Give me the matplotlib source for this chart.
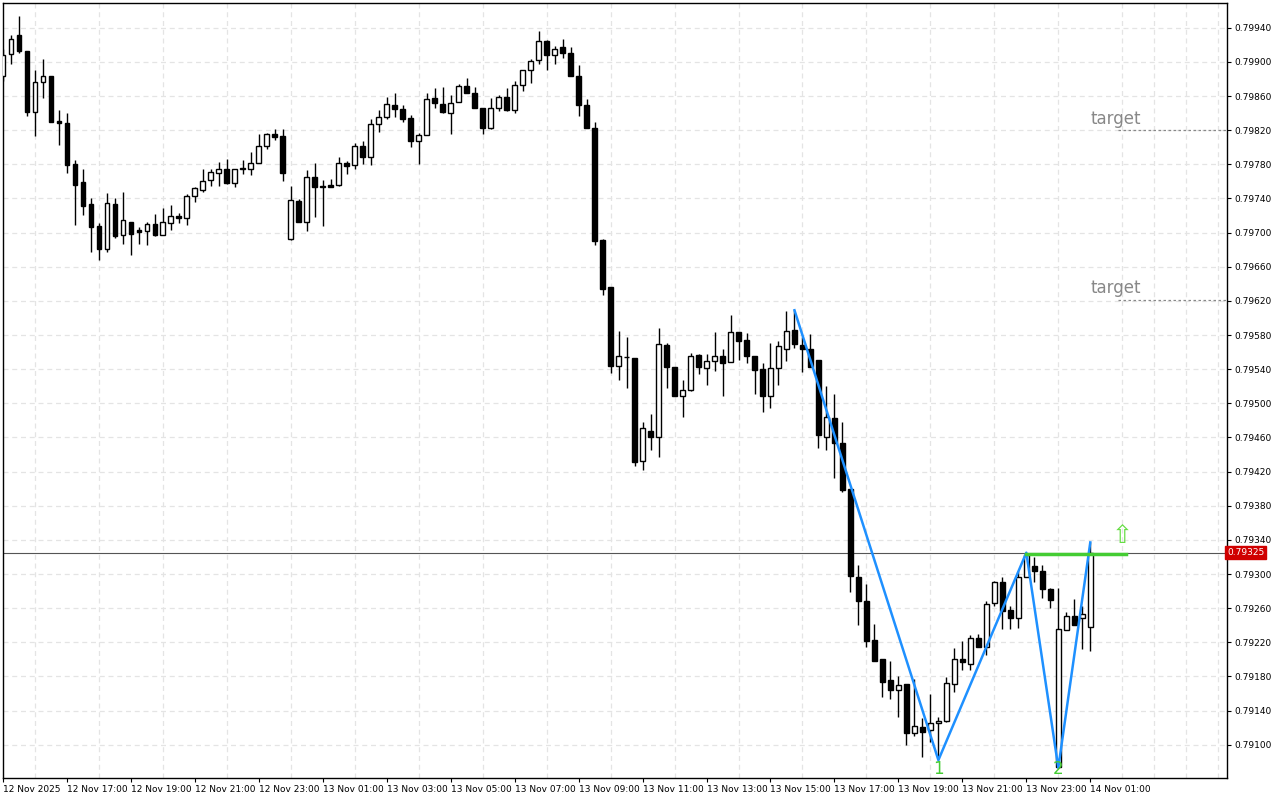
import numpy as np
import matplotlib
matplotlib.use('Agg')
from matplotlib import pyplot as plt

# M15 candles, 12 Nov 15:00 .. 14 Nov 01:00
opens = [0.79883, 0.79909, 0.79932, 0.79913, 0.79841, 0.79876, 0.79883, 0.79831, 0.79828, 0.79780,
         0.79759, 0.79734, 0.79708, 0.79681, 0.79734, 0.79697, 0.79713, 0.79703, 0.79702, 0.79710,
         0.79697, 0.79711, 0.79720, 0.79717, 0.79743, 0.79750, 0.79762, 0.79770, 0.79775, 0.79758,
         0.79775, 0.79775, 0.79782, 0.79802, 0.79816, 0.79813, 0.79692, 0.79737, 0.79712, 0.79765,
         0.79755, 0.79756, 0.79756, 0.79782, 0.79779, 0.79802, 0.79788, 0.79827, 0.79835, 0.79850,
         0.79845, 0.79834, 0.79807, 0.79814, 0.79858, 0.79851, 0.79840, 0.79853, 0.79872, 0.79864,
         0.79846, 0.79822, 0.79846, 0.79859, 0.79844, 0.79873, 0.79890, 0.79902, 0.79924, 0.79908,
         0.79917, 0.79910, 0.79883, 0.79850, 0.79823, 0.79691, 0.79636, 0.79544, 0.79554, 0.79553,
         0.79432, 0.79467, 0.79460, 0.79568, 0.79542, 0.79508, 0.79516, 0.79557, 0.79541, 0.79549,
         0.79556, 0.79548, 0.79583, 0.79574, 0.79555, 0.79540, 0.79508, 0.79541, 0.79564, 0.79586,
         0.79568, 0.79564, 0.79551, 0.79460, 0.79483, 0.79454, 0.79400, 0.79297, 0.79268, 0.79223,
         0.79200, 0.79176, 0.79164, 0.79171, 0.79114, 0.79121, 0.79117, 0.79126, 0.79128, 0.79171,
         0.79201, 0.79195, 0.79225, 0.79214, 0.79266, 0.79291, 0.79258, 0.79249, 0.79296, 0.79309,
         0.79303, 0.79283, 0.79074, 0.79234, 0.79251, 0.79248, 0.79238]
highs = [0.79915, 0.79931, 0.79954, 0.79913, 0.79890, 0.79903, 0.79884, 0.79844, 0.79840, 0.79785,
         0.79775, 0.79741, 0.79711, 0.79746, 0.79741, 0.79748, 0.79713, 0.79706, 0.79712, 0.79722,
         0.79729, 0.79732, 0.79723, 0.79745, 0.79754, 0.79775, 0.79775, 0.79783, 0.79786, 0.79775,
         0.79785, 0.79794, 0.79816, 0.79817, 0.79821, 0.79821, 0.79755, 0.79739, 0.79773, 0.79781,
         0.79762, 0.79763, 0.79788, 0.79784, 0.79805, 0.79807, 0.79833, 0.79844, 0.79859, 0.79863,
         0.79850, 0.79838, 0.79817, 0.79863, 0.79869, 0.79870, 0.79861, 0.79874, 0.79881, 0.79871,
         0.79846, 0.79858, 0.79861, 0.79869, 0.79878, 0.79891, 0.79903, 0.79936, 0.79926, 0.79919,
         0.79927, 0.79917, 0.79896, 0.79857, 0.79830, 0.79693, 0.79636, 0.79585, 0.79578, 0.79553,
         0.79478, 0.79488, 0.79588, 0.79571, 0.79542, 0.79527, 0.79559, 0.79558, 0.79558, 0.79584,
         0.79564, 0.79603, 0.79583, 0.79582, 0.79556, 0.79547, 0.79571, 0.79573, 0.79608, 0.79609,
         0.79578, 0.79581, 0.79551, 0.79520, 0.79511, 0.79478, 0.79400, 0.79310, 0.79288, 0.79241,
         0.79201, 0.79198, 0.79181, 0.79171, 0.79177, 0.79131, 0.79160, 0.79132, 0.79179, 0.79213,
         0.79221, 0.79229, 0.79230, 0.79268, 0.79292, 0.79296, 0.79263, 0.79304, 0.79325, 0.79320,
         0.79310, 0.79284, 0.79284, 0.79256, 0.79271, 0.79263, 0.79337]
lows = [0.79878, 0.79898, 0.79910, 0.79837, 0.79813, 0.79858, 0.79830, 0.79803, 0.79770, 0.79709,
        0.79721, 0.79677, 0.79668, 0.79677, 0.79694, 0.79687, 0.79674, 0.79687, 0.79685, 0.79696,
        0.79697, 0.79703, 0.79711, 0.79709, 0.79736, 0.79748, 0.79755, 0.79755, 0.79757, 0.79754,
        0.79769, 0.79768, 0.79781, 0.79798, 0.79808, 0.79761, 0.79691, 0.79712, 0.79702, 0.79718,
        0.79708, 0.79753, 0.79755, 0.79769, 0.79775, 0.79780, 0.79779, 0.79818, 0.79833, 0.79836,
        0.79829, 0.79800, 0.79780, 0.79814, 0.79846, 0.79840, 0.79816, 0.79853, 0.79863, 0.79846,
        0.79816, 0.79821, 0.79843, 0.79843, 0.79840, 0.79866, 0.79875, 0.79897, 0.79891, 0.79898,
        0.79904, 0.79884, 0.79837, 0.79822, 0.79686, 0.79627, 0.79535, 0.79527, 0.79518, 0.79427,
        0.79422, 0.79445, 0.79437, 0.79518, 0.79508, 0.79484, 0.79515, 0.79534, 0.79521, 0.79538,
        0.79508, 0.79548, 0.79551, 0.79547, 0.79511, 0.79490, 0.79494, 0.79521, 0.79550, 0.79565,
        0.79537, 0.79542, 0.79448, 0.79445, 0.79413, 0.79396, 0.79279, 0.79240, 0.79214, 0.79198,
        0.79156, 0.79154, 0.79132, 0.79100, 0.79110, 0.79086, 0.79103, 0.79082, 0.79127, 0.79162,
        0.79187, 0.79188, 0.79214, 0.79205, 0.79262, 0.79236, 0.79236, 0.79237, 0.79296, 0.79291,
        0.79272, 0.79260, 0.79073, 0.79234, 0.79240, 0.79212, 0.79210]
closes = [0.79908, 0.79927, 0.79913, 0.79841, 0.79877, 0.79883, 0.79830, 0.79828, 0.79779, 0.79756,
          0.79731, 0.79707, 0.79681, 0.79735, 0.79696, 0.79715, 0.79698, 0.79701, 0.79710, 0.79697,
          0.79712, 0.79720, 0.79717, 0.79743, 0.79752, 0.79761, 0.79771, 0.79775, 0.79758, 0.79775,
          0.79776, 0.79781, 0.79801, 0.79815, 0.79812, 0.79770, 0.79738, 0.79712, 0.79765, 0.79754,
          0.79754, 0.79754, 0.79782, 0.79778, 0.79801, 0.79788, 0.79827, 0.79835, 0.79851, 0.79845,
          0.79833, 0.79807, 0.79814, 0.79857, 0.79852, 0.79841, 0.79852, 0.79872, 0.79863, 0.79846,
          0.79822, 0.79846, 0.79859, 0.79844, 0.79873, 0.79890, 0.79901, 0.79924, 0.79908, 0.79915,
          0.79910, 0.79884, 0.79849, 0.79822, 0.79690, 0.79634, 0.79544, 0.79555, 0.79554, 0.79431,
          0.79471, 0.79460, 0.79569, 0.79542, 0.79509, 0.79516, 0.79555, 0.79542, 0.79549, 0.79556,
          0.79547, 0.79583, 0.79573, 0.79555, 0.79539, 0.79509, 0.79541, 0.79567, 0.79585, 0.79570,
          0.79564, 0.79542, 0.79463, 0.79484, 0.79453, 0.79398, 0.79298, 0.79268, 0.79221, 0.79198,
          0.79174, 0.79164, 0.79170, 0.79114, 0.79122, 0.79115, 0.79126, 0.79128, 0.79172, 0.79201,
          0.79197, 0.79225, 0.79215, 0.79265, 0.79291, 0.79257, 0.79249, 0.79296, 0.79322, 0.79303,
          0.79283, 0.79270, 0.79235, 0.79251, 0.79240, 0.79253, 0.79325]

# zigzag pivots (candle index, price)
zz_idx = [99, 117, 128, 132, 136]
zz_price = [0.79609, 0.79082, 0.79325, 0.79073, 0.79337]
targets = [0.79820, 0.79621]
current = 0.79325
level = 0.79323

time_labels = ['12 Nov 2025', '12 Nov 17:00', '12 Nov 19:00', '12 Nov 21:00', '12 Nov 23:00',
               '13 Nov 01:00', '13 Nov 03:00', '13 Nov 05:00', '13 Nov 07:00', '13 Nov 09:00',
               '13 Nov 11:00', '13 Nov 13:00', '13 Nov 15:00', '13 Nov 17:00', '13 Nov 19:00',
               '13 Nov 21:00', '13 Nov 23:00', '14 Nov 01:00']
label_idx = [0] + [8 + 8 * k for k in range(17)]

fig = plt.figure(figsize=(12.8, 8), dpi=100)
ax = fig.add_axes([3 / 1280, 22 / 800, 1224 / 1280, 775 / 800])
n = len(opens)
x = np.arange(n)
o = np.array(opens); c = np.array(closes)
ax.vlines(x, lows, highs, color='black', lw=1, zorder=3)
up = c >= o
ax.bar(x[up], (c - o)[up], bottom=o[up], width=0.6, color='white', edgecolor='black', lw=1, zorder=4)
ax.bar(x[~up], (c - o)[~up], bottom=o[~up], width=0.6, color='black', edgecolor='black', lw=1, zorder=4)

ax.set_xlim(0.125, 153.1)
ax.set_ylim(0.79061, 0.79969)

yt = np.round(np.arange(0.79100, 0.79941, 0.0004), 5)
ax.set_yticks(yt)
ax.set_yticklabels([f'{v:.5f}' for v in yt])
ax.yaxis.tick_right()
ax.set_xticks(np.arange(4, 153, 4), minor=True)
ax.set_xticks(label_idx)
ax.set_xticklabels(time_labels, ha='left')
ax.tick_params(labelsize=6.5, length=3, pad=2)
ax.tick_params(axis='x', which='minor', length=0)
ax.grid(which='both', color='#e4e4e4', ls=(0, (4, 3)), lw=0.9, zorder=0)
ax.grid(axis='x', which='major', visible=False)
for s in ax.spines.values():
    s.set_linewidth(1)

# current price line and label
ax.axhline(current, color='#555555', lw=0.8, zorder=2)
ax.text(1.0, current, f'{current:.5f}', transform=ax.get_yaxis_transform(), fontsize=6.5,
        color='white', va='center', ha='left',
        bbox=dict(boxstyle='square,pad=0.2', fc='#d00000', ec='#d00000'), clip_on=False)

ax.plot(zz_idx, zz_price, color='#1e90ff', lw=1.8, zorder=5)
ax.plot([zz_idx[2], 140.5], [level, level], color='#44cc33', lw=2.5, zorder=6)
ax.text(zz_idx[1], 0.79061, '1', color='#44cc33', fontsize=12, ha='center', va='bottom', zorder=7)
ax.text(zz_idx[3], 0.79061, '2', color='#44cc33', fontsize=12, ha='center', va='bottom', zorder=7)
ax.text(140, 0.79345, '⇧', color='#66dd44', fontsize=18, ha='center', va='center', zorder=7)

for t in targets:
    ax.plot([139.5, 153.1], [t, t], color='#888888', lw=0.9, ls=(0, (2, 2)), zorder=2)
    ax.text(136, t + 0.00003, 'target', color='#888888', fontsize=12, ha='left', va='bottom')

fig.savefig('out.png', dpi=100)
